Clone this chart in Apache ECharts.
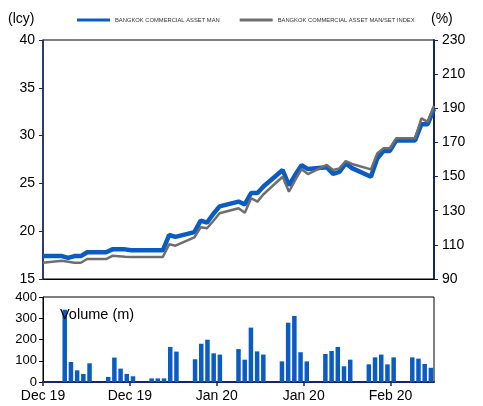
<!DOCTYPE html>
<html>
<head>
<meta charset="utf-8">
<script src="https://cdn.jsdelivr.net/npm/echarts@6/dist/echarts.min.js"></script>
<style>
html, body { margin: 0; padding: 0; background: #fff; }
#chart { width: 483px; height: 406px; }
</style>
</head>
<body>
<div id="chart"></div>
<script>
// calendar day offsets (from 13 Dec 2019) of each trading day
var dayIdx = [0, 3, 4, 5, 6, 7, 10, 11, 12, 13, 14, 17, 18, 19, 20, 21, 24, 25, 26, 27, 28,
    31, 32, 33, 34, 35, 38, 39, 40, 41, 42, 45, 46, 47, 48, 49, 52, 53, 54, 55, 56, 59, 60, 61, 62];
// share price (lcy), left axis
var price = [17.4, 17.4, 17.2, 17.4, 17.4, 17.8, 17.8, 18.1, 18.1, 18.1, 18.0, 18.0, 18.0, 18.0, 19.6, 19.4, 19.9, 21.1, 20.9, 21.8, 22.6,
    23.1, 22.8, 24.0, 24.0, 24.7, 26.4, 24.8, 25.9, 26.9, 26.5, 26.7, 26.0, 26.2, 27.1, 26.6, 25.7, 27.6, 28.4, 28.4, 29.5, 29.5, 31.2, 31.2, 32.8];
// relative to SET index (%), right axis
var relSet = [99.5, 100.7, 100.1, 99.5, 99.5, 101.7, 101.7, 103.6, 103.3, 103.0, 102.9, 102.9, 102.9, 102.9, 110.3, 109.5, 114.4, 120.3, 119.7, 124.0, 128.5,
    131.4, 128.8, 137.3, 135.3, 139.8, 149.9, 141.1, 148.0, 154.3, 151.5, 156.8, 153.9, 154.8, 159.1, 157.4, 154.2, 163.5, 166.6, 166.6, 172.4, 172.4, 184.1, 182.0, 191.5];
// volume (m)
var volume = [null, 340, 94, 55, 38, 88, 24, 115, 63, 38, 27, 17, 17, 17, 165, 143, 107, 180, 199, 135, 129,
    155, 105, 256, 144, 129, 97, 279, 311, 140, 97, 132, 146, 165, 74, 105, 83, 116, 129, 83, 116, 116, 110, 85, 67];
// bottom axis labels (every 14 days)
var tickDays = [0, 14, 28, 42, 56];
var tickLabels = ['Dec 19', 'Dec 19', 'Jan 20', 'Jan 20', 'Feb 20'];

var NAVY = '#14246e';
var BLUE = '#0a5cc2';
var GREY = '#6e6e6e';

var priceData = [], relData = [], volData = [];
for (var i = 0; i < dayIdx.length; i++) {
    priceData.push([dayIdx[i], price[i]]);
    relData.push([dayIdx[i], relSet[i]]);
    if (volume[i] != null) {
        volData.push([dayIdx[i] + 0.5, volume[i]]);
    }
}

var chart = echarts.init(document.getElementById('chart'));
var option = {
    animation: false,
    textStyle: { fontFamily: 'Liberation Sans, Arial, sans-serif' },
    legend: {
        left: 77,
        top: 17,
        padding: 0,
        itemWidth: 33,
        itemHeight: 3,
        itemGap: 20,
        icon: 'rect',
        textStyle: { fontSize: 5.8, color: '#333' },
        data: ['BANGKOK COMMERCIAL ASSET MAN', 'BANGKOK COMMERCIAL ASSET MAN/SET INDEX']
    },
    graphic: [
        { type: 'text', left: 8, top: 12, style: { text: '(lcy)', fill: '#000', font: '14px Liberation Sans' } },
        { type: 'text', left: 431, top: 12, style: { text: '(%)', fill: '#000', font: '14px Liberation Sans' } },
        { type: 'text', left: 60, top: 307, z: 10, style: { text: 'Volume (m)', fill: '#000', font: '14.5px Liberation Sans' } }
    ],
    grid: [
        { left: 43, top: 40, width: 391, height: 239, show: true, borderColor: '#000', borderWidth: 1 },
        { left: 43, top: 297, width: 391, height: 85, show: true, borderColor: '#000', borderWidth: 1 }
    ],
    xAxis: [
        {
            type: 'value', gridIndex: 0, min: 0, max: 62,
            axisLine: { show: true, lineStyle: { color: '#000', width: 1 } },
            axisTick: { show: false },
            axisLabel: { show: false },
            splitLine: { show: false }
        },
        {
            type: 'value', gridIndex: 1, min: 0, max: 63, interval: 14,
            axisLine: { show: true, onZero: false, lineStyle: { color: NAVY, width: 2 } },
            axisTick: { show: true, length: 4, lineStyle: { color: NAVY, width: 1.5 }, customValues: tickDays },
            axisLabel: {
                fontSize: 14, color: '#000', margin: 7,
                customValues: tickDays,
                formatter: function (v) {
                    var k = tickDays.indexOf(v);
                    return k >= 0 ? tickLabels[k] : '';
                }
            },
            splitLine: { show: false }
        }
    ],
    yAxis: [
        {
            type: 'value', gridIndex: 0, position: 'left', min: 15, max: 40, interval: 5,
            axisLine: { show: true, lineStyle: { color: NAVY, width: 1.5 } },
            axisTick: { show: true, length: 4, lineStyle: { color: NAVY } },
            axisLabel: { fontSize: 14, color: '#000', margin: 8 },
            splitLine: { show: false }
        },
        {
            type: 'value', gridIndex: 0, position: 'right', min: 90, max: 230, interval: 20,
            axisLine: { show: true, lineStyle: { color: NAVY, width: 2 } },
            axisTick: { show: true, length: 4, lineStyle: { color: NAVY } },
            axisLabel: { fontSize: 14, color: '#000', margin: 8 },
            splitLine: { show: false }
        },
        {
            type: 'value', gridIndex: 1, min: 0, max: 400, interval: 100,
            axisLine: { show: true, lineStyle: { color: '#000', width: 1 } },
            axisTick: { show: true, length: 4, lineStyle: { color: '#000' } },
            axisLabel: { fontSize: 13, color: '#000', margin: 6 },
            splitLine: { show: false }
        }
    ],
    series: [
        {
            name: 'BANGKOK COMMERCIAL ASSET MAN',
            type: 'line',
            xAxisIndex: 0, yAxisIndex: 0,
            showSymbol: false,
            lineStyle: { color: BLUE, width: 4.5 },
            itemStyle: { color: BLUE },
            data: priceData
        },
        {
            name: 'BANGKOK COMMERCIAL ASSET MAN/SET INDEX',
            type: 'line',
            xAxisIndex: 0, yAxisIndex: 1,
            showSymbol: false,
            lineStyle: { color: GREY, width: 2.5 },
            itemStyle: { color: GREY },
            data: relData
        },
        {
            name: 'Volume',
            type: 'bar',
            xAxisIndex: 1, yAxisIndex: 2,
            barWidth: 4.5,
            itemStyle: { color: BLUE },
            data: volData
        }
    ]
};
chart.setOption(option);
</script>
</body>
</html>
